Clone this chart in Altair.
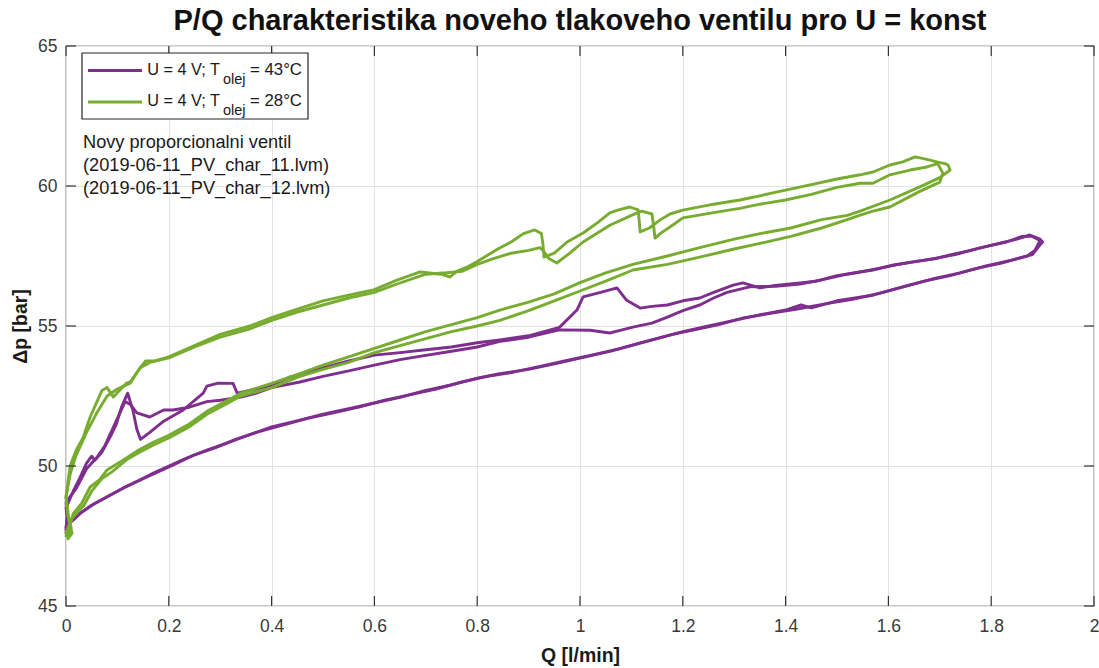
import altair as alt
import pandas as pd

# ---------------------------------------------------------------- texts
TITLE = "P/Q charakteristika noveho tlakoveho ventilu pro U = konst"
X_TITLE = "Q [l/min]"
Y_TITLE = "Δp [bar]"
NOTE_LINES = [
    "Novy proporcionalni ventil",
    "(2019-06-11_PV_char_11.lvm)",
    "(2019-06-11_PV_char_12.lvm)",
]

# ---------------------------------------------------------------- axes
x_ticks = [0, 0.2, 0.4, 0.6, 0.8, 1.0, 1.2, 1.4, 1.6, 1.8, 2.0]
y_ticks = [45, 50, 55, 60, 65]

PURPLE = "#7E2F8E"
GREEN = "#77AC30"
FONT = "Liberation Sans"

legend_prefix = ["U = 4 V; T", "U = 4 V; T"]
legend_sub = ["olej", "olej"]
legend_suffix = ["= 43°C", "= 28°C"]
legend_colors = [PURPLE, GREEN]

# ---------------------------------------------------------------- measured (Q [l/min], dp [bar])
# T_olej = 43 degC, run 1: rising flow, then falling flow
t43_run1_up = [
    (0.0, 47.6), (0.004, 47.9), (0.01, 48.0), (0.027, 48.3), (0.05, 48.6), (0.08, 48.9),
    (0.11, 49.2), (0.144, 49.5), (0.17, 49.75), (0.196, 49.96), (0.23, 50.25), (0.274, 50.57),
    (0.31, 50.8), (0.34, 51.0), (0.4, 51.4), (0.455, 51.64), (0.5, 51.85), (0.55, 52.05),
    (0.6, 52.25), (0.65, 52.45), (0.7, 52.7), (0.75, 52.9), (0.8, 53.14), (0.844, 53.3),
    (0.9, 53.45), (0.95, 53.65), (1.0, 53.85), (1.06, 54.1), (1.117, 54.4), (1.16, 54.6),
    (1.2, 54.8), (1.25, 55.0), (1.3, 55.2), (1.35, 55.4), (1.4, 55.57), (1.43, 55.75),
    (1.45, 55.65), (1.5, 55.9), (1.57, 56.1), (1.62, 56.36), (1.67, 56.6), (1.72, 56.8),
    (1.77, 57.05), (1.82, 57.25), (1.86, 57.45), (1.88, 57.55), (1.895, 57.9), (1.9, 58.0),
]
t43_run1_down = [
    (1.895, 58.1), (1.875, 58.25), (1.85, 58.1), (1.817, 57.96), (1.76, 57.7), (1.72, 57.54),
    (1.69, 57.4), (1.65, 57.3), (1.61, 57.18), (1.57, 57.0), (1.5, 56.8), (1.46, 56.6),
    (1.428, 56.54), (1.38, 56.45), (1.35, 56.36), (1.317, 56.54), (1.298, 56.46), (1.26, 56.2),
    (1.233, 56.0), (1.2, 55.9), (1.17, 55.75), (1.14, 55.7), (1.117, 55.64), (1.09, 55.93),
    (1.072, 56.36), (1.04, 56.2), (1.006, 56.04), (0.994, 55.57), (0.96, 54.95), (0.9, 54.65),
    (0.844, 54.5), (0.8, 54.4), (0.75, 54.25), (0.7, 54.15), (0.65, 54.05), (0.6, 53.96),
    (0.55, 53.75), (0.5, 53.5), (0.455, 53.25), (0.436, 53.18), (0.403, 52.9), (0.37, 52.75),
    (0.333, 52.6), (0.325, 52.95), (0.296, 52.96), (0.274, 52.85), (0.267, 52.6), (0.228, 52.0),
    (0.19, 51.6), (0.163, 51.2), (0.145, 50.95), (0.138, 51.3), (0.13, 52.0), (0.12, 52.6),
    (0.108, 52.1), (0.098, 51.5), (0.086, 51.04), (0.07, 50.5), (0.056, 50.2), (0.05, 50.35),
    (0.04, 50.1), (0.025, 49.5), (0.014, 49.1), (0.0, 48.5), (0.003, 48.2), (0.0, 47.8),
]
# T_olej = 43 degC, run 2
t43_run2_up = [
    (0.0, 47.7), (0.006, 48.0), (0.015, 48.1), (0.03, 48.35), (0.055, 48.65), (0.085, 48.95),
    (0.115, 49.25), (0.15, 49.55), (0.18, 49.8), (0.21, 50.05), (0.25, 50.4), (0.29, 50.65),
    (0.33, 50.95), (0.37, 51.2), (0.42, 51.45), (0.47, 51.7), (0.52, 51.9), (0.57, 52.1),
    (0.62, 52.35), (0.67, 52.55), (0.72, 52.75), (0.77, 53.0), (0.82, 53.2), (0.87, 53.35),
    (0.92, 53.55), (0.97, 53.75), (1.02, 53.95), (1.08, 54.2), (1.13, 54.45), (1.18, 54.7),
    (1.22, 54.85), (1.27, 55.05), (1.32, 55.3), (1.37, 55.45), (1.42, 55.6), (1.48, 55.8),
    (1.53, 55.95), (1.59, 56.2), (1.64, 56.45), (1.69, 56.7), (1.74, 56.9), (1.79, 57.15),
    (1.84, 57.35), (1.87, 57.5), (1.885, 57.7), (1.895, 58.05),
]
t43_run2_down = [
    (1.88, 58.2), (1.86, 58.2), (1.83, 58.0), (1.78, 57.8), (1.73, 57.55), (1.68, 57.38),
    (1.62, 57.2), (1.58, 57.05), (1.52, 56.85), (1.47, 56.65), (1.428, 56.5), (1.38, 56.42),
    (1.33, 56.4), (1.286, 56.2), (1.26, 56.0), (1.233, 55.75), (1.2, 55.55), (1.17, 55.32),
    (1.14, 55.1), (1.103, 54.96), (1.08, 54.85), (1.058, 54.75), (1.02, 54.85), (0.96, 54.86),
    (0.9, 54.6), (0.844, 54.45), (0.8, 54.25), (0.75, 54.1), (0.7, 53.95), (0.65, 53.8),
    (0.6, 53.6), (0.55, 53.4), (0.5, 53.2), (0.455, 53.0), (0.4, 52.8), (0.37, 52.6),
    (0.34, 52.46), (0.3, 52.35), (0.274, 52.3), (0.24, 52.1), (0.208, 52.0), (0.19, 52.0),
    (0.163, 51.75), (0.138, 51.9), (0.125, 52.2), (0.115, 52.3), (0.105, 51.9), (0.09, 51.3),
    (0.075, 50.7), (0.06, 50.3), (0.04, 49.9), (0.02, 49.2), (0.0, 48.7), (0.002, 48.2),
    (0.0, 47.7),
]
# T_olej = 28 degC, run 1
t28_run1_up = [
    (0.0, 47.5), (0.008, 47.9), (0.014, 48.3), (0.03, 48.65), (0.047, 49.25), (0.065, 49.5),
    (0.08, 49.86), (0.11, 50.2), (0.144, 50.6), (0.17, 50.85), (0.2, 51.1), (0.24, 51.5),
    (0.274, 51.95), (0.31, 52.3), (0.34, 52.6), (0.4, 52.95), (0.455, 53.3), (0.5, 53.6),
    (0.55, 53.9), (0.6, 54.2), (0.65, 54.5), (0.7, 54.8), (0.75, 55.05), (0.8, 55.3),
    (0.844, 55.57), (0.9, 55.85), (0.95, 56.15), (1.0, 56.55), (1.05, 56.9), (1.103, 57.2),
    (1.17, 57.5), (1.233, 57.8), (1.3, 58.1), (1.35, 58.3), (1.41, 58.5), (1.47, 58.8),
    (1.52, 58.95), (1.545, 59.1), (1.603, 59.5), (1.66, 59.96), (1.7, 60.3), (1.72, 60.57),
    (1.716, 60.75), (1.71, 60.8),
]
t28_run1_down = [
    (1.696, 60.85), (1.675, 60.95), (1.652, 61.04), (1.628, 60.86), (1.603, 60.75), (1.57, 60.5),
    (1.545, 60.4), (1.5, 60.25), (1.45, 60.05), (1.4, 59.85), (1.35, 59.65), (1.311, 59.5),
    (1.26, 59.35), (1.2, 59.14), (1.175, 59.0), (1.156, 58.79), (1.135, 58.5), (1.117, 58.36),
    (1.115, 58.8), (1.113, 59.15), (1.097, 59.25), (1.075, 59.15), (1.058, 59.04), (1.035, 58.7),
    (1.006, 58.32), (0.975, 58.0), (0.95, 57.6), (0.93, 57.46), (0.928, 57.9), (0.925, 58.3),
    (0.912, 58.43), (0.89, 58.3), (0.866, 58.0), (0.84, 57.75), (0.8, 57.3), (0.78, 57.1),
    (0.76, 56.95), (0.747, 56.75), (0.73, 56.85), (0.689, 56.93), (0.644, 56.64), (0.6, 56.3),
    (0.55, 56.1), (0.5, 55.9), (0.45, 55.6), (0.4, 55.3), (0.358, 55.0), (0.3, 54.7),
    (0.25, 54.3), (0.2, 53.9), (0.173, 53.75), (0.155, 53.75), (0.144, 53.5), (0.125, 53.0),
    (0.118, 52.96), (0.092, 52.46), (0.08, 52.8), (0.07, 52.7), (0.047, 51.75), (0.033, 51.0),
    (0.02, 50.57), (0.008, 50.0), (0.0, 48.86), (0.004, 48.2), (0.01, 47.8), (0.004, 47.4),
]
# T_olej = 28 degC, run 2
t28_run2_up = [
    (0.0, 47.6), (0.01, 48.1), (0.02, 48.3), (0.035, 48.6), (0.05, 49.1), (0.07, 49.55),
    (0.09, 49.8), (0.12, 50.25), (0.144, 50.5), (0.17, 50.75), (0.2, 51.0), (0.24, 51.4),
    (0.274, 51.85), (0.31, 52.2), (0.34, 52.5), (0.4, 52.8), (0.455, 53.2), (0.5, 53.45),
    (0.55, 53.7), (0.6, 54.05), (0.65, 54.3), (0.7, 54.55), (0.75, 54.8), (0.8, 55.0),
    (0.844, 55.2), (0.9, 55.55), (0.95, 55.9), (1.0, 56.25), (1.05, 56.6), (1.103, 57.0),
    (1.17, 57.2), (1.233, 57.46), (1.3, 57.75), (1.35, 57.95), (1.41, 58.2), (1.47, 58.5),
    (1.52, 58.8), (1.545, 58.96), (1.57, 59.1), (1.603, 59.25), (1.66, 59.8), (1.7, 60.14),
    (1.706, 60.46), (1.696, 60.8),
]
t28_run2_down = [
    (1.675, 60.68), (1.642, 60.57), (1.603, 60.4), (1.57, 60.1), (1.545, 60.1), (1.5, 59.95),
    (1.45, 59.7), (1.4, 59.5), (1.35, 59.35), (1.311, 59.2), (1.26, 59.05), (1.2, 58.86),
    (1.18, 58.6), (1.156, 58.3), (1.146, 58.14), (1.143, 58.6), (1.14, 59.0), (1.12, 59.1),
    (1.1, 58.95), (1.058, 58.6), (1.006, 58.0), (0.98, 57.6), (0.955, 57.25), (0.94, 57.4),
    (0.928, 57.7), (0.922, 57.8), (0.9, 57.7), (0.866, 57.6), (0.83, 57.4), (0.8, 57.2),
    (0.77, 56.95), (0.74, 56.9), (0.7, 56.85), (0.644, 56.5), (0.6, 56.2), (0.55, 56.0),
    (0.5, 55.75), (0.45, 55.5), (0.4, 55.2), (0.358, 54.9), (0.3, 54.6), (0.25, 54.25),
    (0.2, 53.86), (0.163, 53.7), (0.144, 53.5), (0.125, 52.96), (0.1, 52.75), (0.08, 52.5),
    (0.06, 51.9), (0.04, 51.2), (0.02, 50.4), (0.008, 49.7), (0.0, 48.9), (0.006, 48.0),
    (0.012, 47.6), (0.006, 47.45),
]


def run_frame(name, *parts):
    pts = [p for part in parts for p in part]
    return pd.DataFrame({
        "run": name,
        "i": range(len(pts)),
        "q": [p[0] for p in pts],
        "dp": [p[1] for p in pts],
    })


df43 = pd.concat([run_frame("43-1", t43_run1_up, t43_run1_down),
                  run_frame("43-2", t43_run2_up, t43_run2_down)])
df28 = pd.concat([run_frame("28-1", t28_run1_up, t28_run1_down),
                  run_frame("28-2", t28_run2_up, t28_run2_down)])

x_scale = alt.Scale(domain=[0, 2], nice=False, zero=False)
y_scale = alt.Scale(domain=[45, 65], nice=False, zero=False)

x_axis = alt.Axis(values=x_ticks, format="~g", title=X_TITLE, grid=True, ticks=False,
                  domain=False, labelPadding=11, titlePadding=12, labelFlush=False)
y_axis = alt.Axis(values=y_ticks, title=Y_TITLE, grid=True, ticks=False, domain=False,
                  labelPadding=9, titlePadding=7, labelFlush=False)

W, H = 1028, 560


def xq():
    return alt.X("q:Q", scale=x_scale, axis=x_axis)


def ydp():
    return alt.Y("dp:Q", scale=y_scale, axis=y_axis)


def curves(df, color):
    return alt.Chart(df).mark_line(
        color=color, strokeWidth=2.9, strokeJoin="round", strokeCap="round"
    ).encode(x=xq(), y=ydp(), detail="run:N", order="i:Q")


# inward tick marks on all four sides of the box
xt = pd.DataFrame({"q": x_ticks})
yt = pd.DataFrame({"dp": y_ticks})
tick_style = dict(color="#333333", strokeWidth=1.2)
tick_len = 10
ticks_bottom = alt.Chart(xt).mark_rule(**tick_style).encode(
    x=xq(), y=alt.value(H), y2=alt.value(H - tick_len))
ticks_top = alt.Chart(xt).mark_rule(**tick_style).encode(
    x=xq(), y=alt.value(0), y2=alt.value(tick_len))
ticks_left = alt.Chart(yt).mark_rule(**tick_style).encode(
    y=ydp(), x=alt.value(0), x2=alt.value(tick_len))
ticks_right = alt.Chart(yt).mark_rule(**tick_style).encode(
    y=ydp(), x=alt.value(W), x2=alt.value(W - tick_len))

# legend box in the upper-left corner
one = pd.DataFrame({"k": [0]})
legend_box = alt.Chart(one).mark_rect(fill="white", stroke="#262626", strokeWidth=1.2).encode(
    x=alt.value(16), x2=alt.value(242), y=alt.value(7), y2=alt.value(73))

legend_layers = []
row_y = [24.5, 56.0]
for k in range(2):
    lg = pd.DataFrame({"pre": [legend_prefix[k]], "sub": [legend_sub[k]], "suf": [legend_suffix[k]]})
    legend_layers.append(alt.Chart(lg).mark_rule(color=legend_colors[k], strokeWidth=3).encode(
        x=alt.value(22), x2=alt.value(76), y=alt.value(row_y[k])))
    legend_layers.append(alt.Chart(lg).mark_text(
        align="right", baseline="middle", font=FONT, fontSize=16.3, color="#1a1a1a").encode(
        x=alt.value(154), y=alt.value(row_y[k] - 1), text="pre:N"))
    legend_layers.append(alt.Chart(lg).mark_text(
        align="left", baseline="middle", font=FONT, fontSize=14.5, color="#1a1a1a").encode(
        x=alt.value(157), y=alt.value(row_y[k] + 9), text="sub:N"))
    legend_layers.append(alt.Chart(lg).mark_text(
        align="left", baseline="middle", font=FONT, fontSize=16.8, color="#1a1a1a").encode(
        x=alt.value(184), y=alt.value(row_y[k] - 1), text="suf:N"))

note_layers = []
for k, line in enumerate(NOTE_LINES):
    nd = pd.DataFrame({"t": [line]})
    note_layers.append(alt.Chart(nd).mark_text(
        align="left", baseline="middle", font=FONT, fontSize=18.2, color="#1a1a1a").encode(
        x=alt.value(17), y=alt.value(97 + 23 * k), text="t:N"))

chart = alt.layer(
    curves(df43, PURPLE),
    curves(df28, GREEN),
    ticks_bottom, ticks_top, ticks_left, ticks_right,
    legend_box, *legend_layers, *note_layers,
).properties(
    width=W,
    height=H,
    autosize=alt.AutoSizeParams(type="none"),
    padding={"left": 66, "top": 46, "right": 5, "bottom": 62},
    background="white",
    title=alt.Title(TITLE, anchor="middle", fontSize=29, fontWeight="bold", font=FONT,
                    color="#111111", offset=1),
).configure_view(
    stroke="#333333", strokeWidth=1.2
).configure_axis(
    labelFont=FONT, labelFontSize=17.5, labelColor="#3a3a3a",
    titleFont=FONT, titleFontSize=19.5, titleFontWeight="bold", titleColor="#1a1a1a",
    gridColor="#e2e2e2", gridWidth=1,
)

chart.save("out.html", embed_options={"renderer": "svg", "actions": False})
